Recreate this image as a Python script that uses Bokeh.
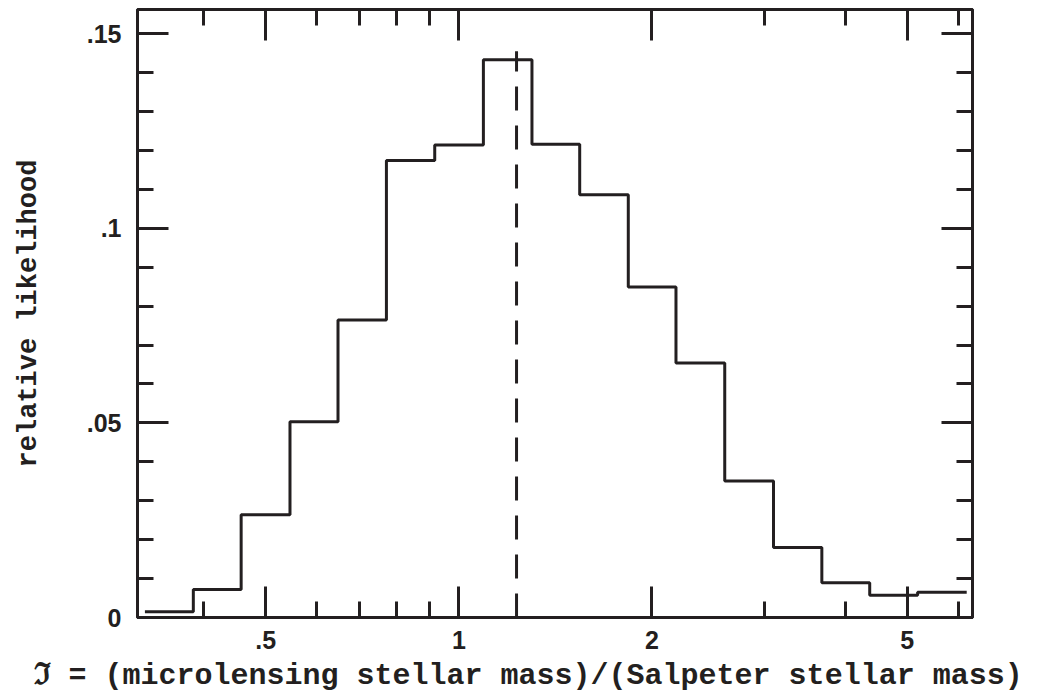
import numpy as np
from bokeh.plotting import figure
from bokeh.models import (FixedTicker, CustomJSTickFormatter, LogAxis, LinearAxis,
                          Title)
from bokeh.embed import file_html
from bokeh.resources import INLINE

# ---- data ----
bin_edges = [0.324, 0.3855, 0.4577, 0.5454, 0.648, 0.771, 0.917, 1.092, 1.300,
             1.543, 1.837, 2.18, 2.597, 3.094, 3.68, 4.37, 5.19, 6.19]
likelihood = [0.0015, 0.0072, 0.0264, 0.0503, 0.0764, 0.1174, 0.1214, 0.1433,
              0.1216, 0.1086, 0.0849, 0.0654, 0.0351, 0.0180, 0.0089, 0.0057, 0.0065]
best_value = 1.23
best_line_top = 0.1455

x_major = [0.5, 1, 2, 5]
x_minor = [0.4, 0.6, 0.7, 0.8, 0.9, 3, 4, 6]
y_major = [0, 0.05, 0.1, 0.15]
y_minor = [0.01, 0.02, 0.03, 0.04, 0.06, 0.07, 0.08, 0.09, 0.11, 0.12, 0.13, 0.14]

x_label = "\u2111 = (microlensing stellar mass)/(Salpeter stellar mass)"
y_label = "relative likelihood"

INK = "#231f20"

p = figure(width=1040, height=698, x_axis_type="log",
           x_range=(0.3155, 6.32), y_range=(0, 0.1562),
           output_backend="svg", toolbar_location=None,
           min_border_left=137, min_border_right=68,
           min_border_top=9, min_border_bottom=81)
p.grid.visible = False
p.outline_line_color = INK
p.outline_line_width = 3
p.background_fill_color = "white"
p.border_fill_color = "white"

label_fmt = CustomJSTickFormatter(code="""
    if (tick == 0) return '0';
    let s = String(Math.round(tick*1000)/1000);
    if (s.startsWith('0.')) s = s.substring(1);
    return s;
""")
blank_fmt = CustomJSTickFormatter(code="return '';")


def style_axis(ax):
    ax.axis_line_width = 3
    ax.axis_line_color = INK
    ax.major_tick_in = 31
    ax.major_tick_out = 0
    ax.minor_tick_in = 16
    ax.minor_tick_out = 0
    ax.major_tick_line_width = 3
    ax.minor_tick_line_width = 3
    ax.major_tick_line_color = INK
    ax.minor_tick_line_color = INK
    ax.major_label_text_font = "Liberation Sans"
    ax.major_label_text_font_size = "25px"
    ax.major_label_text_font_style = "bold"
    ax.major_label_text_color = INK


xb = p.xaxis[0]
xb.ticker = FixedTicker(ticks=x_major, minor_ticks=x_minor)
xb.formatter = label_fmt
style_axis(xb)
xb.major_label_standoff = 13

yl = p.yaxis[0]
yl.ticker = FixedTicker(ticks=y_major, minor_ticks=y_minor)
yl.formatter = label_fmt
style_axis(yl)
yl.major_label_standoff = 16
yl.axis_label = y_label
yl.axis_label_text_font = "Liberation Mono"
yl.axis_label_text_font_size = "27px"
yl.axis_label_text_font_style = "bold"
yl.axis_label_text_color = INK
yl.axis_label_standoff = 40

xt = LogAxis(ticker=FixedTicker(ticks=x_major, minor_ticks=x_minor), formatter=blank_fmt)
style_axis(xt)
xt.major_label_standoff = 0
xt.major_label_text_font_size = "0px"
p.add_layout(xt, "above")

yr = LinearAxis(ticker=FixedTicker(ticks=y_major, minor_ticks=y_minor), formatter=blank_fmt)
style_axis(yr)
yr.major_label_standoff = 0
yr.major_label_text_font_size = "0px"
p.add_layout(yr, "right")

p.add_layout(Title(text=x_label, align="left", offset=-104, standoff=11,
                   text_font="Liberation Mono", text_font_size="30px",
                   text_font_style="bold", text_color=INK), "below")

# histogram as a step outline
edges = np.array(bin_edges)
heights = np.array(likelihood)
xs = np.repeat(edges, 2)[1:-1]
ys = np.repeat(heights, 2)
p.line(xs, ys, line_color=INK, line_width=3)

# best-fit dashed line
p.line([best_value, best_value], [0, best_line_top], line_color=INK,
       line_width=3, line_dash="24 15")

open("out.html", "w").write(file_html(p, INLINE))
